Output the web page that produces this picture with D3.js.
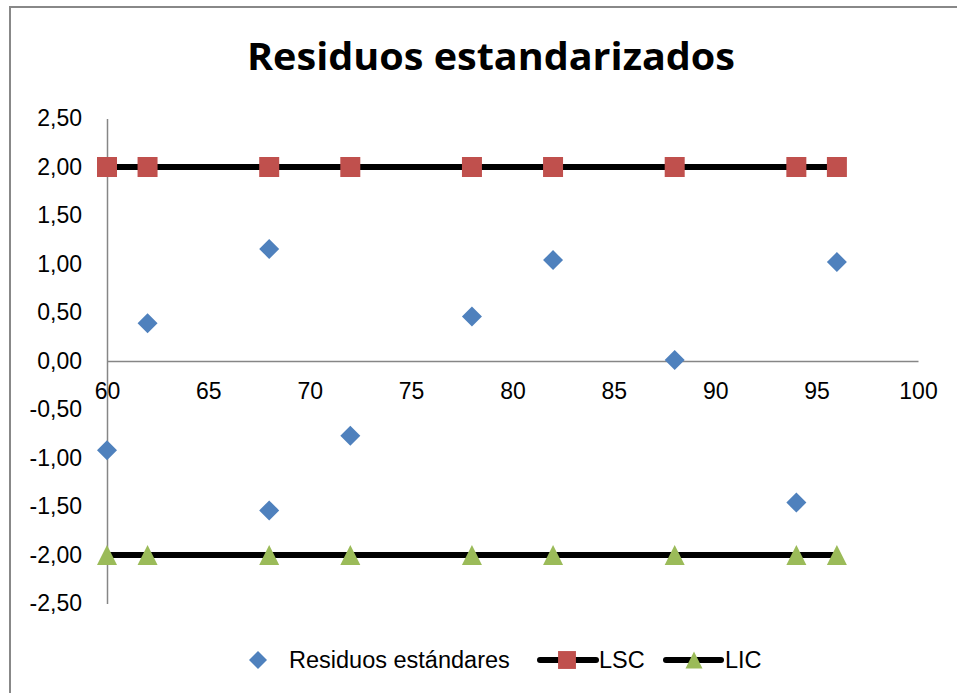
<!DOCTYPE html>
<html>
<head>
<meta charset="utf-8">
<script src="https://cdn.jsdelivr.net/npm/d3@7"></script>
<style>
  html, body { margin: 0; padding: 0; background: #fff; }
  svg { display: block; }
</style>
</head>
<body>
<svg id="chart" width="957" height="693"></svg>
<script>
// ---- Data ----
const title = "Residuos estandarizados";
const resX = [60, 62, 68, 68, 72, 78, 82, 88, 94, 96];
const resY = [-0.92, 0.39, 1.155, -1.54, -0.77, 0.46, 1.04, 0.01, -1.46, 1.02];
const limX = [60, 62, 68, 72, 78, 82, 88, 94, 96];
const lscY = [2, 2, 2, 2, 2, 2, 2, 2, 2];
const licY = [-2, -2, -2, -2, -2, -2, -2, -2, -2];
const xTicks = [60, 65, 70, 75, 80, 85, 90, 95, 100];
const yTicks = [2.5, 2, 1.5, 1, 0.5, 0, -0.5, -1, -1.5, -2, -2.5];
const seriesNames = ["Residuos estándares", "LSC", "LIC"];
const colors = { res: "#4F81BD", lsc: "#C0504D", lic: "#9BBB59", line: "#000000", axis: "#868686" };

const svg = d3.select("#chart");
const font = "'Liberation Sans', Arial, sans-serif";

// chart border (top and left edges visible)
svg.append("path").attr("d", "M10,700V7H960")
  .attr("fill", "none").attr("stroke", "#888").attr("stroke-width", 2);

// title
svg.append("text").attr("x", 247).attr("y", 70)
  .attr("font-family", "'Open Sans', sans-serif").attr("font-weight", "bold")
  .attr("font-size", 37).attr("textLength", 488).attr("lengthAdjust", "spacingAndGlyphs")
  .attr("fill", "#000").text(title);

const x = d3.scaleLinear().domain([60, 100]).range([107, 918]);
const y = d3.scaleLinear().domain([-2.5, 2.5]).range([603.5, 118.5]);
const fmt = v => d3.format(".2f")(v).replace(".", ",").replace("−", "-");

// y axis
const yAxis = svg.append("g").attr("transform", `translate(${x(60)},0)`)
  .call(d3.axisLeft(y).tickValues(yTicks).tickSize(0).tickPadding(25).tickFormat(fmt));
yAxis.select(".domain").attr("stroke", colors.axis).attr("stroke-width", 1.5);
yAxis.selectAll("text").attr("font-family", font).attr("font-size", 23).attr("fill", "#000");

// x axis at y=0
const xAxis = svg.append("g").attr("transform", `translate(0,${y(0)})`)
  .call(d3.axisBottom(x).tickValues(xTicks).tickSize(0).tickPadding(22).tickFormat(d3.format("d")));
xAxis.select(".domain").attr("stroke", colors.axis).attr("stroke-width", 1.5);
xAxis.selectAll("text").attr("font-family", font).attr("font-size", 23).attr("fill", "#000");

// lines
const line = d3.line().x(d => x(d[0])).y(d => y(d[1]));
svg.append("path").datum(limX.map((v, i) => [v, lscY[i]])).attr("d", line)
  .attr("fill", "none").attr("stroke", colors.line).attr("stroke-width", 6);
svg.append("path").datum(limX.map((v, i) => [v, licY[i]])).attr("d", line)
  .attr("fill", "none").attr("stroke", colors.line).attr("stroke-width", 6);

const sq = d3.symbol().type(d3.symbolSquare).size(400);
const tri = h => `M0,${-h}L${h},${h}L${-h},${h}Z`;
const dia = d => `M0,${-d}L${d},0L0,${d}L${-d},0Z`;

svg.append("g").selectAll("path").data(limX).join("path")
  .attr("transform", (d, i) => `translate(${x(d)},${y(lscY[i])})`)
  .attr("d", sq).attr("fill", colors.lsc);
svg.append("g").selectAll("path").data(limX).join("path")
  .attr("transform", (d, i) => `translate(${x(d)},${y(licY[i])})`)
  .attr("d", tri(10)).attr("fill", colors.lic);
svg.append("g").selectAll("path").data(resX).join("path")
  .attr("transform", (d, i) => `translate(${x(d)},${y(resY[i])})`)
  .attr("d", dia(10)).attr("fill", colors.res);

// legend
const ly = 660;
const lg = svg.append("g");
lg.append("path").attr("transform", `translate(258,${ly})`).attr("d", dia(9)).attr("fill", colors.res);
lg.append("text").attr("x", 289).attr("y", ly + 8).attr("font-family", font).attr("font-size", 23.5).text(seriesNames[0]);
lg.append("line").attr("x1", 540).attr("x2", 596).attr("y1", ly).attr("y2", ly)
  .attr("stroke", colors.line).attr("stroke-width", 6).attr("stroke-linecap", "round");
lg.append("path").attr("transform", `translate(567,${ly})`).attr("d", d3.symbol().type(d3.symbolSquare).size(320)).attr("fill", colors.lsc);
lg.append("text").attr("x", 599).attr("y", ly + 8).attr("font-family", font).attr("font-size", 23.5).text(seriesNames[1]);
lg.append("line").attr("x1", 666).attr("x2", 721).attr("y1", ly).attr("y2", ly)
  .attr("stroke", colors.line).attr("stroke-width", 6).attr("stroke-linecap", "round");
lg.append("path").attr("transform", `translate(694,${ly})`).attr("d", tri(8.5)).attr("fill", colors.lic);
lg.append("text").attr("x", 725).attr("y", ly + 8).attr("font-family", font).attr("font-size", 23.5).text(seriesNames[2]);
</script>
</body>
</html>
